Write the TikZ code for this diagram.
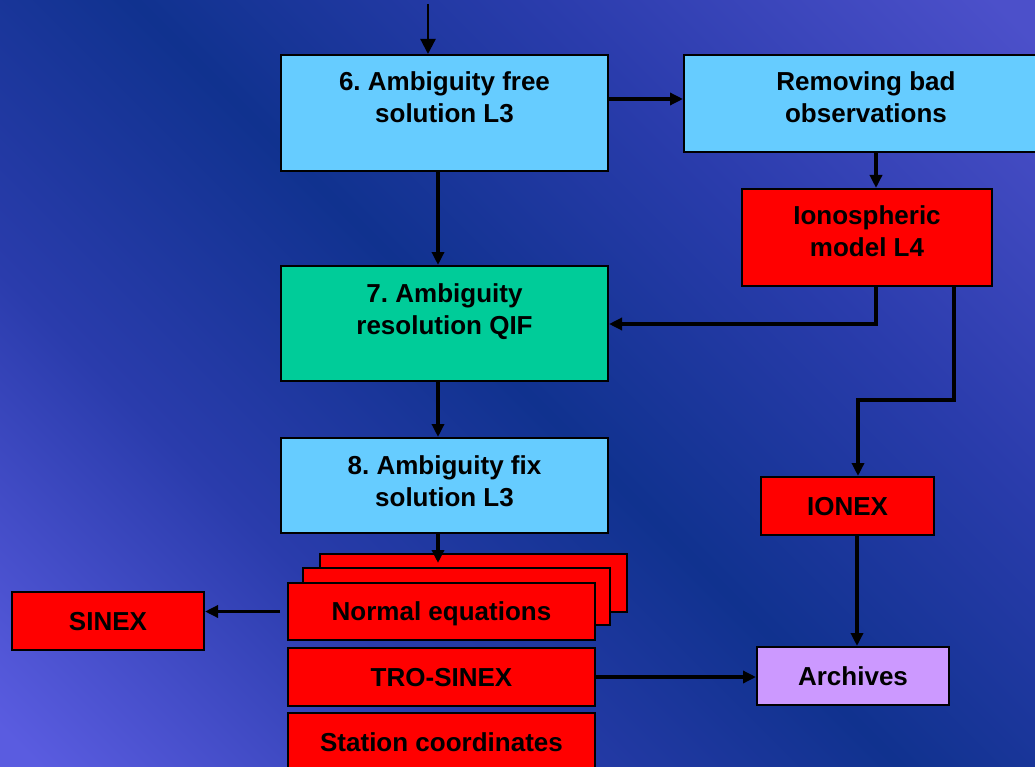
\documentclass[tikz,border=0pt]{standalone}
\usepackage{fontspec}
\setmainfont{Liberation Sans}
\usetikzlibrary{arrows.meta}
\definecolor{lblue}{HTML}{66CCFF}
\definecolor{qgreen}{HTML}{00CC99}
\definecolor{qred}{HTML}{FF0000}
\definecolor{lav}{HTML}{CC99FF}
\definecolor{bgtr}{HTML}{4C50CA}
\definecolor{bgbl}{HTML}{5A5CE0}
\definecolor{bgmid}{HTML}{2A3CAC}
\definecolor{bgdark}{HTML}{10328F}
\pgfdeclareverticalshading{bgshade}{100bp}{color(0bp)=(bgbl); color(16bp)=(bgbl); color(34bp)=(bgmid); color(50bp)=(bgdark); color(66bp)=(bgmid); color(84bp)=(bgtr); color(100bp)=(bgtr)}
\frenchspacing
\begin{document}
\begin{tikzpicture}[x=1pt,y=-1pt,
  bx/.style={draw=black, line width=2pt, inner sep=0pt},
  one/.style={bx, font=\fontsize{26}{32}\selectfont\bfseries, text height=18.6pt, text depth=0pt},
  txt/.style={font=\fontsize{26}{32}\selectfont\bfseries, inner sep=0pt, text=black},
  arr/.style={line width=3.5pt, -{Triangle[length=13pt,width=12pt]}},
  ln/.style={line width=3.5pt}]
\useasboundingbox (0,0) rectangle (1035,767);
\clip (0,0) rectangle (1035,767);
\shade[shading=bgshade, shading angle=-45] (0,0) rectangle (1035,767);

% boxes
\node[bx, fill=lblue, minimum width=327pt, minimum height=116pt] (b6) at (444.5,113) {};
\node[txt, anchor=base] (b6a) at ([yshift=-37pt]b6.north) {6. Ambiguity free};
\node[txt, anchor=base] (b6b) at ([yshift=-69pt]b6.north) {solution L3};

\node[bx, fill=lblue, minimum width=364pt, minimum height=97pt] (rm) at (866,103.5) {};
\node[txt, anchor=base] (rma) at ([yshift=-37pt]rm.north) {Removing bad};
\node[txt, anchor=base] (rmb) at ([yshift=-69pt]rm.north) {observations};

\node[bx, fill=qred, minimum width=250pt, minimum height=97pt] (ion) at (867,237.5) {};
\node[txt, anchor=base] (iona) at ([yshift=-37pt]ion.north) {Ionospheric};
\node[txt, anchor=base] (ionb) at ([yshift=-69pt]ion.north) {model L4};

\node[bx, fill=qgreen, minimum width=327pt, minimum height=115pt] (b7) at (444.5,323.5) {};
\node[txt, anchor=base] (b7a) at ([yshift=-37pt]b7.north) {7. Ambiguity};
\node[txt, anchor=base] (b7b) at ([yshift=-69pt]b7.north) {resolution QIF};

\node[bx, fill=lblue, minimum width=327pt, minimum height=95pt] (b8) at (444.5,485.5) {};
\node[txt, anchor=base] (b8a) at ([yshift=-37pt]b8.north) {8. Ambiguity fix};
\node[txt, anchor=base] (b8b) at ([yshift=-69pt]b8.north) {solution L3};

\node[one, fill=qred, minimum width=173pt, minimum height=58pt] (ionex) at (847.5,506) {IONEX};
\node[one, fill=lav, minimum width=192pt, minimum height=58pt] (arch) at (853,676) {Archives};
\node[one, fill=qred, minimum width=192pt, minimum height=58pt] (sx) at (108,621) {SINEX};

\node[bx, fill=qred, minimum width=307pt, minimum height=58pt] (neback) at (473.5,583) {};
\node[bx, fill=qred, minimum width=307pt, minimum height=57pt] (nemid) at (456.5,596.5) {};
\node[one, fill=qred, minimum width=307pt, minimum height=57pt] (ne) at (441.5,611.5) {Normal equations};
\node[one, fill=qred, minimum width=307pt, minimum height=58pt] (tro) at (441.5,677) {TRO-SINEX};
\node[one, fill=qred, minimum width=307pt, minimum height=58pt] (sta) at (441.5,742) {Station coordinates};

% connectors
\coordinate (in) at (428,4);
\draw[line width=2.2pt, -{Triangle[length=15pt,width=15pt]}] (in) -- (in |- b6.north);
\coordinate (r1) at (608,99);
\draw[arr] (r1) -- (r1 -| rm.west);
\coordinate (v1) at (438,170);
\draw[arr] (v1 |- b6.south) -- (v1 |- b7.north);
\draw[arr] (v1 |- b7.south) -- (v1 |- b8.north);
\draw[arr] (v1 |- b8.south) -- (v1 |- neback.north) -- ++(0,10);
\coordinate (v2) at (876,152);
\draw[arr] (v2 |- rm.south) -- (v2 |- ion.north);
\coordinate (c1) at (876,324);
\draw[arr] (c1 |- ion.south) -- (c1) -- (c1 -| b7.east);
\coordinate (c2) at (954,400);
\coordinate (c3) at (858,400);
\draw[arr] (c2 |- ion.south) -- (c2) -- (c3) -- (c3 |- ionex.north);
\coordinate (c4) at (857,535);
\draw[arr] (c4 |- ionex.south) -- (c4 |- arch.north);
\draw[arr] (tro.east) -- (tro.east -| arch.west);
\draw[arr] ([xshift=-7pt]ne.west) -- (ne.west -| sx.east);
\end{tikzpicture}
\end{document}
